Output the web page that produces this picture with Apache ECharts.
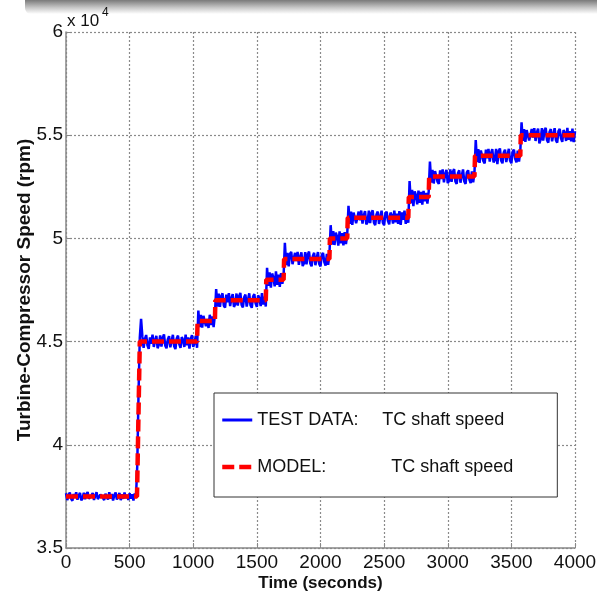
<!DOCTYPE html>
<html>
<head>
<meta charset="utf-8">
<script src="https://cdn.jsdelivr.net/npm/echarts@6/dist/echarts.min.js"></script>
<style>
html,body{margin:0;padding:0;background:#fff;}
#chart{width:597px;height:593px;}
</style>
</head>
<body>
<div id="chart"></div>
<script>
// test data, sampled every 10 s from t = 0 (rpm)
var sampleStep = 10;
var testSpeed = [
  37650,37320,37570,37690,37390,37290,37620,37440,37700,37340,37540,37670,37310,37410,37680,37360,37610,37710,37380,37300,37560,37660,37330,37520,37700,37370,37280,37590,37670,37430,
  37320,37630,37550,37350,37700,37390,37620,37300,37570,37690,37350,37460,37670,37320,37600,37380,37690,37420,37580,37330,37650,37390,37610,37300,37640,37470,
  39000,42500,45200,46100,
  45250,44700,45120,45320,44820,44650,45200,44900,45340,44740,45060,45280,44680,44850,45300,44760,45180,45350,44800,44680,45100,45260,44720,45040,45330,44780,44640,45150,45290,44880,
  44700,45220,45080,44740,45340,44820,45200,44660,45120,45310,44750,44940,45280,44700,
  46500,45700,46300,45680,46250,46340,45750,46100,45660,46300,45800,46220,45700,46280,
  47550,46700,47320,46680,47200,47340,46750,46650,47280,46900,47350,46720,47100,47300,46680,46820,47330,46740,47200,47360,46780,46660,47150,47280,46700,47020,47340,46760,46640,47180,
  47300,46850,46680,47240,47100,46720,47350,46800,47180,46700,
  48570,47700,48350,47620,48300,48100,47680,48400,47750,48250,47650,48320,47800,48200,
  49790,48700,49300,48650,49250,49350,48750,48680,49300,48900,49350,48720,49100,49320,48660,48800,49340,48740,49220,49360,48780,48650,49150,49300,48700,49050,49340,48760,48640,49200,
  49300,48850,48680,49250,48720,49200,
  50640,49700,50350,49680,50280,50100,49650,50340,49760,50250,49660,50300,49720,50200,
  51580,50700,51300,50660,51250,51340,50740,50650,51300,50880,51350,50720,51120,51320,50680,50800,51340,50740,51220,51360,50760,50640,51160,51300,50700,51040,51340,50760,50640,51200,
  51300,50850,50680,51250,51120,50720,51350,50780,51200,50700,51320,50660,51260,50900,51340,50700,51180,50760,
  52780,51700,52350,51560,52280,52100,51650,52320,51720,52250,51640,52300,51800,52200,51680,52250,
  53720,52700,53320,52660,53260,53350,52740,52640,53300,52880,53340,52720,53120,53320,52680,52800,53340,52740,53220,53360,52760,52640,53160,53300,52700,53040,53340,52760,52640,53200,
  53300,52850,52680,53250,52720,53200,
  54770,53700,54320,53660,54260,54350,53740,53640,54300,53880,54340,53720,54120,54320,53680,53800,54340,53600,54220,54360,53760,53640,54160,54300,53700,54040,54340,53760,53640,54200,
  54300,53850,53680,54250,53720,54200,
  55620,54720,55300,54680,55250,55340,54740,54650,55300,54880,55340,54720,55120,55320,54600,54800,55340,54740,55220,55360,54760,54640,55160,55300,54700,55040,55340,54760,54640,55200,
  55300,54850,54680,55250,55120,54720,55350,54780,55200,54700,55320,54660,55200
];
// model: step levels, where each level starts and where it ends (s)
var modelLevels = [37500,45000,46000,47000,48000,49000,50000,51000,52000,53000,54000,55000];
var levelStart  = [0,580,1034,1174,1574,1714,2074,2214,2694,2854,3214,3574];
var levelEnd    = [558,1030,1170,1570,1710,2070,2210,2690,2850,3210,3570,4000];
var xTicks = [0,4000,500];
var yTicks = [35000,60000,5000];

var testData = testSpeed.map(function(v,i){ return [i*sampleStep, v]; });
var modelData = [];
for (var k=0;k<modelLevels.length;k++){
  modelData.push([levelStart[k], modelLevels[k]]);
  modelData.push([levelEnd[k], modelLevels[k]]);
}

var font = 'Liberation Sans, Arial, sans-serif';
var chart = echarts.init(document.getElementById('chart'));
var gridLine = {show:true, lineStyle:{color:'#8a8a8a', width:1.2, type:[2,2]}};
var tick = {show:true, inside:true, length:5, lineStyle:{color:'#888', width:1}};
chart.setOption({
  animation:false,
  backgroundColor:'#fff',
  textStyle:{fontFamily:font},
  graphic:[
    {type:'rect', left:25, top:0, shape:{width:572, height:14, r:[0,0,0,6]},
     style:{fill:new echarts.graphic.LinearGradient(0,0,0,1,[{offset:0,color:'#7a7a7a'},{offset:0.55,color:'#c8c8c8'},{offset:1,color:'#ffffff'}])}, z:0},
    {type:'text', left:67, top:13, style:{text:'x 10', fontSize:17, fill:'#111', fontFamily:font}},
    {type:'text', left:102, top:7, style:{text:'4', fontSize:12, fill:'#111', fontFamily:font}}
  ],
  grid:{left:66, right:22, top:32, bottom:45, containLabel:false, outerBoundsMode:'none'},
  legend:{
    orient:'vertical', left:214, top:393,
    padding:[17,44,20,6],
    itemWidth:30, itemHeight:14, itemGap:27,
    backgroundColor:'#fff', borderColor:'#333', borderWidth:1,
    itemStyle:{color:'rgba(0,0,0,0)', borderWidth:0},
    data:[
      {name:'TEST DATA', lineStyle:{color:'#0000ff', width:3}},
      {name:'MODEL', lineStyle:{color:'#ff0000', width:4.5, type:[12,5]}}
    ],
    formatter:function(n){
      return n==='TEST DATA' ? '{a|TEST DATA:}{b|TC shaft speed}' : '{c|MODEL:}{b|TC shaft speed}';
    },
    textStyle:{fontSize:18, color:'#111', lineHeight:20,
      rich:{a:{width:125, fontSize:18, color:'#111'}, c:{width:134, fontSize:18, color:'#111'}, b:{fontSize:18, color:'#111'}}}
  },
  xAxis:{
    type:'value', min:xTicks[0], max:xTicks[1], interval:xTicks[2],
    name:'Time (seconds)', nameLocation:'middle', nameGap:27, nameMoveOverlap:false,
    nameTextStyle:{fontSize:17, fontWeight:'bold', color:'#111'},
    axisLine:{show:true, lineStyle:{color:'#888', width:1.5}},
    axisTick:tick,
    axisLabel:{fontSize:19, color:'#111', margin:5, formatter:function(v){ return String(v); }},
    splitLine:gridLine
  },
  yAxis:{
    type:'value', min:yTicks[0], max:yTicks[1], interval:yTicks[2],
    name:'Turbine-Compressor Speed (rpm)', nameLocation:'middle', nameGap:32, nameMoveOverlap:false,
    nameTextStyle:{fontSize:19, fontWeight:'bold', color:'#111'},
    axisLine:{show:true, lineStyle:{color:'#888', width:1.5}},
    axisTick:tick,
    axisLabel:{fontSize:19, color:'#111', margin:3, formatter:function(v){ return String(v/10000); }},
    splitLine:gridLine
  },
  series:[
    {name:'TEST DATA', type:'line', data:testData, showSymbol:false, symbol:'none',
     lineStyle:{color:'#0000ff', width:2.5}, itemStyle:{color:'#0000ff'}, z:2},
    {name:'MODEL', type:'line', data:modelData, showSymbol:false, symbol:'none',
     lineStyle:{color:'#ff0000', width:4.5, type:[12,5]}, itemStyle:{color:'#ff0000'}, z:3}
  ]
});
</script>
</body>
</html>
